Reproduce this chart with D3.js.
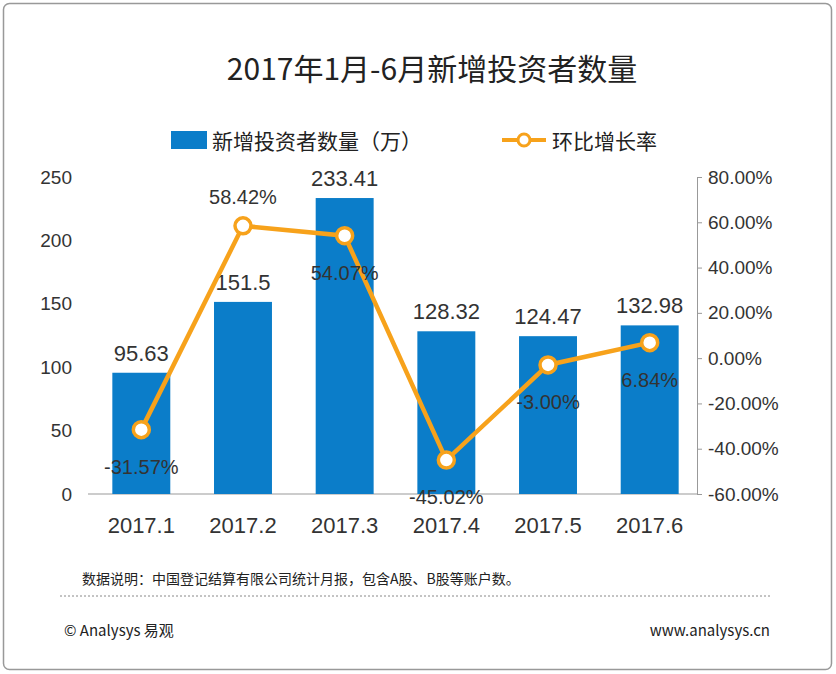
<!DOCTYPE html>
<html><head><meta charset="utf-8">
<script src="https://cdn.jsdelivr.net/npm/d3@7"></script>
<style>body{margin:0;background:#fff;font-family:"Noto Sans CJK SC","Noto Sans",sans-serif}</style>
</head><body>
<script>
const months = ["2017.1", "2017.2", "2017.3", "2017.4", "2017.5", "2017.6"];
const investors = [95.63, 151.5, 233.41, 128.32, 124.47, 132.98];
const growth = [-31.57, 58.42, 54.07, -45.02, -3.00, 6.84];
const growthLabelAbove = [false, true, false, false, false, false];
const leftTicks = [0, 50, 100, 150, 200, 250];
const rightTicks = [-60, -40, -20, 0, 20, 40, 60, 80];

const W = 836, H = 674;
const svg = d3.select("body").append("svg").attr("width", W).attr("height", H);

svg.append("rect").attr("x", 3.5).attr("y", 3.5).attr("width", W - 8).attr("height", H - 8)
  .attr("rx", 6).attr("fill", "#fff").attr("stroke", "#999").attr("stroke-width", 1.5);

svg.append("text").attr("x", 432).attr("y", 80).attr("text-anchor", "middle")
  .attr("font-size", 30).attr("fill", "#222").text("2017年1月-6月新增投资者数量");

// legend
svg.append("rect").attr("x", 171).attr("y", 131).attr("width", 36).attr("height", 18).attr("fill", "#0b7dc9");
svg.append("text").attr("x", 212).attr("y", 149).attr("font-size", 21).attr("fill", "#222").text("新增投资者数量（万）");
svg.append("line").attr("x1", 502).attr("x2", 546).attr("y1", 140).attr("y2", 140).attr("stroke", "#f7a21b").attr("stroke-width", 4);
svg.append("circle").attr("cx", 524).attr("cy", 140).attr("r", 6).attr("fill", "#fff").attr("stroke", "#f7a21b").attr("stroke-width", 3);
svg.append("text").attr("x", 552).attr("y", 149).attr("font-size", 21).attr("fill", "#222").text("环比增长率");

const x = d3.scaleBand().domain(months).range([92, 699]).paddingInner(0.43).paddingOuter(0.2);
const yL = d3.scaleLinear().domain([0, 250]).range([494, 177]);
const yR = d3.scaleLinear().domain([-60, 80]).range([494, 177]);

const axL = svg.append("g").attr("transform", "translate(88,0)")
  .call(d3.axisLeft(yL).tickValues(leftTicks).tickSize(0).tickPadding(16));
const axR = svg.append("g").attr("transform", "translate(697,0)")
  .call(d3.axisRight(yR).tickValues(rightTicks).tickSize(5).tickPadding(6).tickFormat(d => d.toFixed(2) + "%"));
[axL, axR].forEach(a => {
  a.selectAll("text").attr("font-size", 19).attr("fill", "#333").attr("font-family", "Liberation Sans, sans-serif");
  a.select(".domain").attr("stroke", "#999");
  a.selectAll(".tick line").attr("stroke", "#999");
});
axL.select(".domain").remove();
svg.append("line").attr("x1", 88).attr("x2", 697).attr("y1", 494).attr("y2", 494).attr("stroke", "#999");

svg.selectAll(".bar").data(investors).enter().append("rect")
  .attr("x", (d, i) => x(months[i])).attr("width", x.bandwidth())
  .attr("y", d => yL(d)).attr("height", d => 494 - yL(d)).attr("fill", "#0b7dc9");

svg.selectAll(".bl").data(investors).enter().append("text")
  .attr("x", (d, i) => x(months[i]) + x.bandwidth() / 2).attr("y", d => yL(d) - 12)
  .attr("text-anchor", "middle").attr("font-size", 22).attr("fill", "#333")
  .attr("font-family", "Liberation Sans, sans-serif").text(d => d);

svg.selectAll(".cat").data(months).enter().append("text")
  .attr("x", d => x(d) + x.bandwidth() / 2).attr("y", 533).attr("text-anchor", "middle")
  .attr("font-size", 22).attr("fill", "#333").attr("font-family", "Liberation Sans, sans-serif").text(d => d);

const cx = i => x(months[i]) + x.bandwidth() / 2;
svg.append("path").datum(growth)
  .attr("d", d3.line().x((d, i) => cx(i)).y(d => yR(d)))
  .attr("fill", "none").attr("stroke", "#f7a21b").attr("stroke-width", 4.5);
svg.selectAll(".pt").data(growth).enter().append("circle")
  .attr("cx", (d, i) => cx(i)).attr("cy", d => yR(d)).attr("r", 8)
  .attr("fill", "#fff").attr("stroke", "#f7a21b").attr("stroke-width", 3.5);
svg.selectAll(".gl").data(growth).enter().append("text")
  .attr("x", (d, i) => cx(i)).attr("y", (d, i) => growthLabelAbove[i] ? yR(d) - 22 : yR(d) + 44)
  .attr("text-anchor", "middle").attr("font-size", 20).attr("fill", "#333")
  .attr("font-family", "Liberation Sans, sans-serif").text(d => d.toFixed(2) + "%");

svg.append("text").attr("x", 82).attr("y", 584).attr("font-size", 14).attr("fill", "#222")
  .text("数据说明：中国登记结算有限公司统计月报，包含A股、B股等账户数。");
svg.append("line").attr("x1", 60).attr("x2", 770).attr("y1", 596).attr("y2", 596)
  .attr("stroke", "#888").attr("stroke-dasharray", "2,2");
svg.append("text").attr("x", 64).attr("y", 636).attr("font-size", 15).attr("fill", "#222").text("© Analysys 易观");
svg.append("text").attr("x", 770).attr("y", 636).attr("text-anchor", "end").attr("font-size", 15).attr("fill", "#222").text("www.analysys.cn");
</script>
</body></html>
